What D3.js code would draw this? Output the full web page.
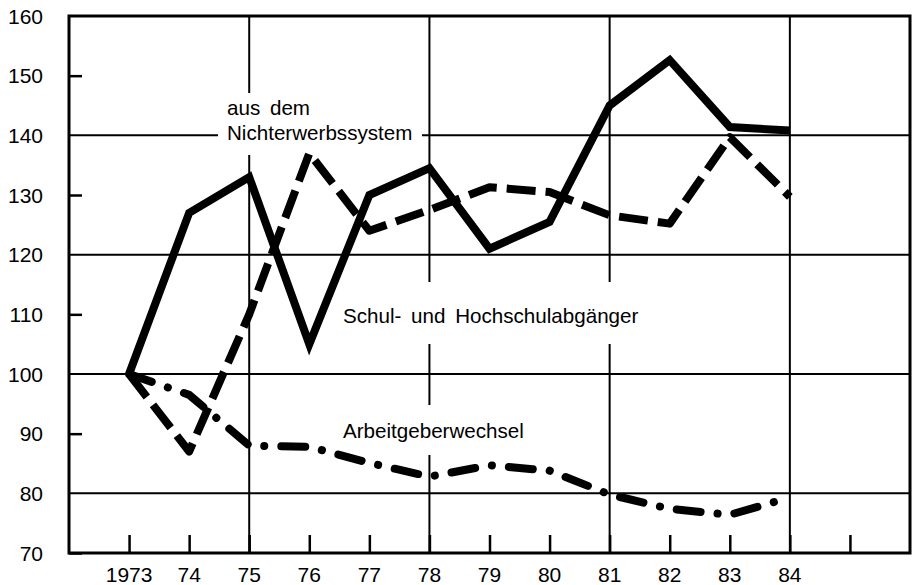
<!DOCTYPE html>
<html>
<head>
<meta charset="utf-8">
<script src="https://cdn.jsdelivr.net/npm/d3@7"></script>
<style>
  body { margin: 0; background: #fff; }
  svg { display: block; }
</style>
</head>
<body>
<div id="chart"></div>
<script>
// years and series (index 1973 = 100)
const years = [1973,1974,1975,1976,1977,1978,1979,1980,1981,1982,1983,1984];
const schulAbgaenger = [100,127,133,105,130,134.5,121,125.5,145,152.6,141.4,140.8];
const nichterwerb    = [100,87,110,137,124,127.5,131.3,130.5,126.6,125.2,139.7,129.7];
const arbeitgeber    = [100,96.5,88,87.8,85.1,82.8,84.7,83.8,79.8,77.4,76.4,79.3];

const yTickValues = [70,80,90,100,110,120,130,140,150,160];
const yGridValues = [80,100,120,140];
const xTickYears = [1973,1974,1975,1976,1977,1978,1979,1980,1981,1982,1983,1984,1985];
const xGridYears = [1975,1978,1981,1984];
const xTickLabels = ["1973","74","75","76","77","78","79","80","81","82","83","84",""];

const width = 914, height = 585;
const plotL = 69, plotR = 910, plotT = 16, plotB = 553;

const x = d3.scaleLinear().domain([1972,1986]).range([plotL,plotR]);
const y = d3.scaleLinear().domain([70,160]).range([plotB,plotT]);

const svg = d3.select("#chart").append("svg")
  .attr("width", width)
  .attr("height", height)
  .style("font-family", "'Liberation Sans', Arial, Helvetica, sans-serif");

// grid lines
svg.append("g").selectAll("line").data(yGridValues).join("line")
  .attr("x1", plotL).attr("x2", plotR)
  .attr("y1", d => y(d)).attr("y2", d => y(d))
  .attr("stroke", "#000").attr("stroke-width", 2);

svg.append("g").selectAll("line").data(xGridYears).join("line")
  .attr("x1", d => x(d)).attr("x2", d => x(d))
  .attr("y1", plotT).attr("y2", plotB)
  .attr("stroke", "#000").attr("stroke-width", 2);

// inner ticks
const yAxis = d3.axisRight(y).tickValues(yTickValues.filter(v => v % 20 == 10))
  .tickSize(13).tickFormat("");
svg.append("g").attr("transform", `translate(${plotL},0)`).call(yAxis)
  .call(g => g.select(".domain").remove())
  .selectAll("line").attr("stroke-width", 2.5);

const xAxis = d3.axisTop(x).tickValues(xTickYears).tickSize(18).tickFormat("");
svg.append("g").attr("transform", `translate(0,${plotB})`).call(xAxis)
  .call(g => g.select(".domain").remove())
  .selectAll("line").attr("stroke-width", 2.5);

// frame
svg.append("rect")
  .attr("x", plotL).attr("y", plotT)
  .attr("width", plotR - plotL).attr("height", plotB - plotT)
  .attr("fill", "none").attr("stroke", "#000").attr("stroke-width", 3);

// tick labels
svg.append("g").selectAll("text").data(yTickValues).join("text")
  .attr("x", 43).attr("y", d => y(d))
  .attr("text-anchor", "end").attr("dominant-baseline", "central")
  .style("font-size", "21px")
  .text(d => d);

svg.append("g").selectAll("text").data(xTickYears).join("text")
  .attr("x", d => x(d)).attr("y", 582)
  .attr("text-anchor", "middle")
  .style("font-size", "21px")
  .text((d,i) => xTickLabels[i]);

// series labels (white boxes break the grid lines)
const labels = [
  { lines: ["aus dem","Nichterwerbssystem"], x: 227, y: 115, box: [218,93,422,155] },
  { lines: ["Schul- und Hochschulabgänger"], x: 343, y: 323, box: [336,282,650,344] },
  { lines: ["Arbeitgeberwechsel"], x: 343, y: 438, box: [336,405,535,455] }
];
labels.forEach(l => {
  svg.append("rect")
    .attr("x", l.box[0]).attr("y", l.box[1])
    .attr("width", l.box[2]-l.box[0]).attr("height", l.box[3]-l.box[1])
    .attr("fill", "#fff");
  l.lines.forEach((t,i) => {
    svg.append("text")
      .attr("x", l.x).attr("y", l.y + i*25)
      .style("font-size", "20.6px")
      .style("word-spacing", "4px")
      .text(t);
  });
});

// lines
const line = d3.line()
  .x((d,i) => x(years[i]))
  .y(d => y(d));

svg.append("path")
  .datum(arbeitgeber)
  .attr("d", line)
  .attr("fill", "none").attr("stroke", "#000")
  .attr("stroke-width", 8)
  .attr("stroke-linecap", "round")
  .attr("stroke-dasharray", "24,17,0.1,17");

svg.append("path")
  .datum(nichterwerb)
  .attr("d", line)
  .attr("fill", "none").attr("stroke", "#000")
  .attr("stroke-width", 8)
  .attr("stroke-linejoin", "round")
  .attr("stroke-dasharray", "29,10");

svg.append("path")
  .datum(schulAbgaenger)
  .attr("d", line)
  .attr("fill", "none").attr("stroke", "#000")
  .attr("stroke-width", 8)
  .attr("stroke-linejoin", "miter");
</script>
</body>
</html>
